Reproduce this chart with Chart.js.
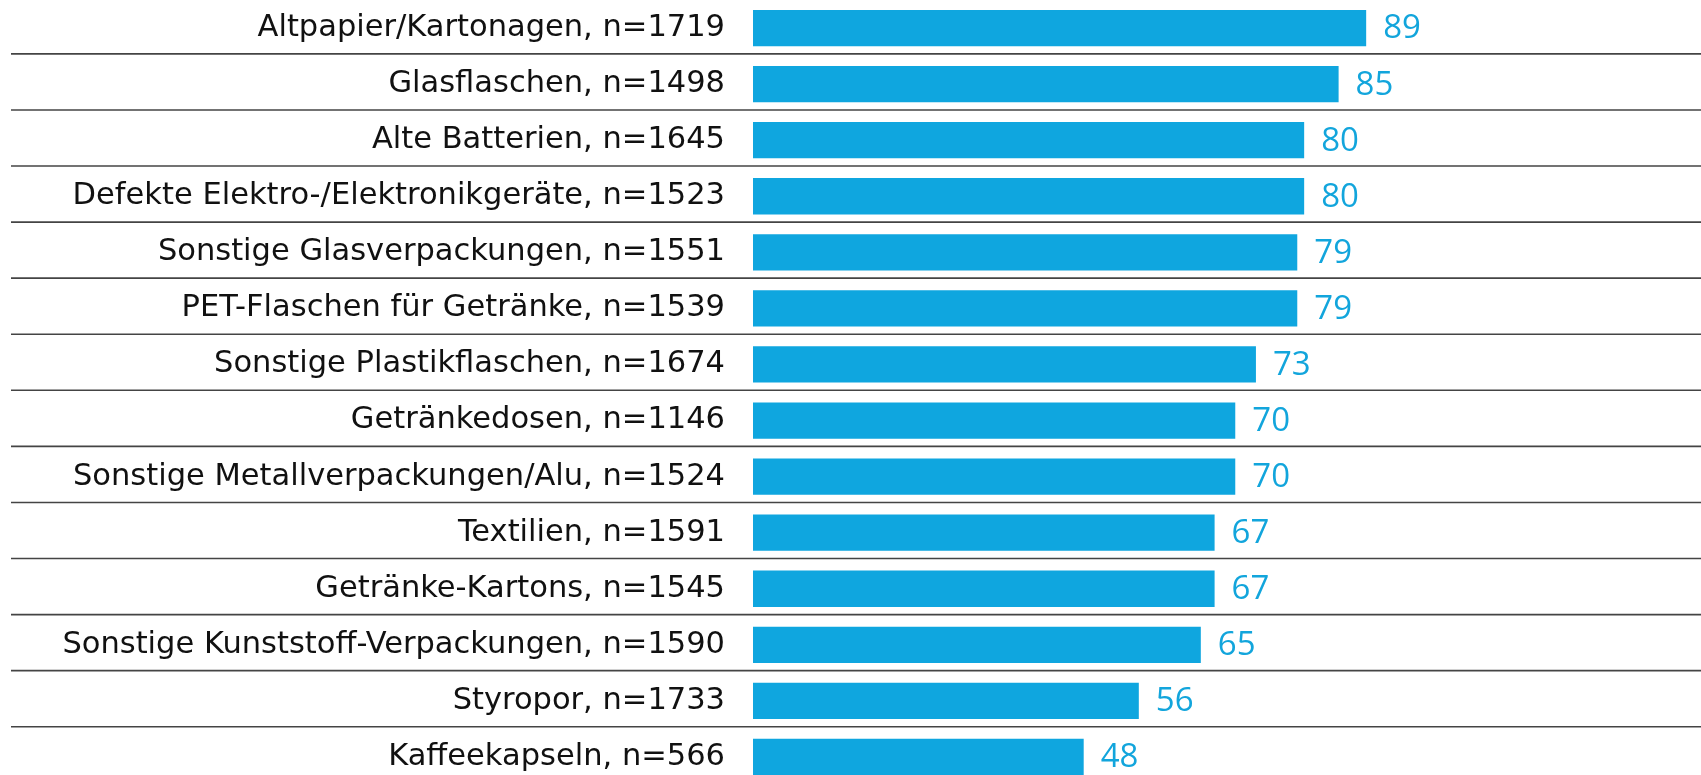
<!DOCTYPE html>
<html>
<head>
<meta charset="utf-8">
<script src="https://cdn.jsdelivr.net/npm/chart.js@4"></script>
<style>
html,body{margin:0;padding:0;background:#fff;overflow:hidden;}
#wrap{width:1701px;height:785px;}
</style>
</head>
<body>
<div id="wrap"><canvas id="c" width="1701" height="785"></canvas></div>
<script>
const categories = [
  "Altpapier/Kartonagen, n=1719",
  "Glasflaschen, n=1498",
  "Alte Batterien, n=1645",
  "Defekte Elektro-/Elektronikgeräte, n=1523",
  "Sonstige Glasverpackungen, n=1551",
  "PET-Flaschen für Getränke, n=1539",
  "Sonstige Plastikflaschen, n=1674",
  "Getränkedosen, n=1146",
  "Sonstige Metallverpackungen/Alu, n=1524",
  "Textilien, n=1591",
  "Getränke-Kartons, n=1545",
  "Sonstige Kunststoff-Verpackungen, n=1590",
  "Styropor, n=1733",
  "Kaffeekapseln, n=566"
];
const values = [89, 85, 80, 80, 79, 79, 73, 70, 70, 67, 67, 65, 56, 48];

const BAR_COLOR = '#0fa6df';

const separatorPlugin = {
  id: 'separators',
  beforeDatasetsDraw(chart) {
    const y = chart.scales.y;
    const ctx = chart.ctx;
    ctx.save();
    ctx.strokeStyle = '#444';
    ctx.lineWidth = 1.6;
    for (let k = 0; k < categories.length - 1; k++) {
      const py = y.getPixelForValue(k + 0.5) - 2.2;
      ctx.beginPath();
      ctx.moveTo(11, py);
      ctx.lineTo(chart.width, py);
      ctx.stroke();
    }
    ctx.restore();
  }
};

const valueLabelPlugin = {
  id: 'valueLabels',
  afterDatasetsDraw(chart) {
    const ctx = chart.ctx;
    const meta = chart.getDatasetMeta(0);
    ctx.save();
    ctx.fillStyle = '#12a5dc';
    ctx.font = '33px "Open Sans"';
    ctx.textAlign = 'left';
    ctx.textBaseline = 'middle';
    meta.data.forEach((bar, i) => {
      ctx.fillText(String(values[i]), bar.x + 17, bar.y + 1);
    });
    ctx.restore();
  }
};

new Chart(document.getElementById('c'), {
  type: 'bar',
  data: {
    labels: categories,
    datasets: [{
      data: values,
      backgroundColor: BAR_COLOR,
      borderWidth: 0,
      barPercentage: 0.647,
      categoryPercentage: 1.0
    }]
  },
  options: {
    indexAxis: 'y',
    responsive: false,
    animation: false,
    devicePixelRatio: 1,
    layout: { padding: 0 },
    plugins: { legend: { display: false }, tooltip: { enabled: false } },
    scales: {
      x: {
        display: false,
        min: 0,
        max: 137.6
      },
      y: {
        grid: { display: false, drawTicks: false },
        border: { display: false },
        afterFit(scale) {
          scale.width = 753;
          scale.paddingTop = 0;
          scale.paddingBottom = 0;
        },
        ticks: {
          padding: 28,
          color: '#111',
          font: { family: '"DejaVu Sans"', size: 30.5 }
        }
      }
    }
  },
  plugins: [separatorPlugin, valueLabelPlugin]
});
</script>
</body>
</html>
